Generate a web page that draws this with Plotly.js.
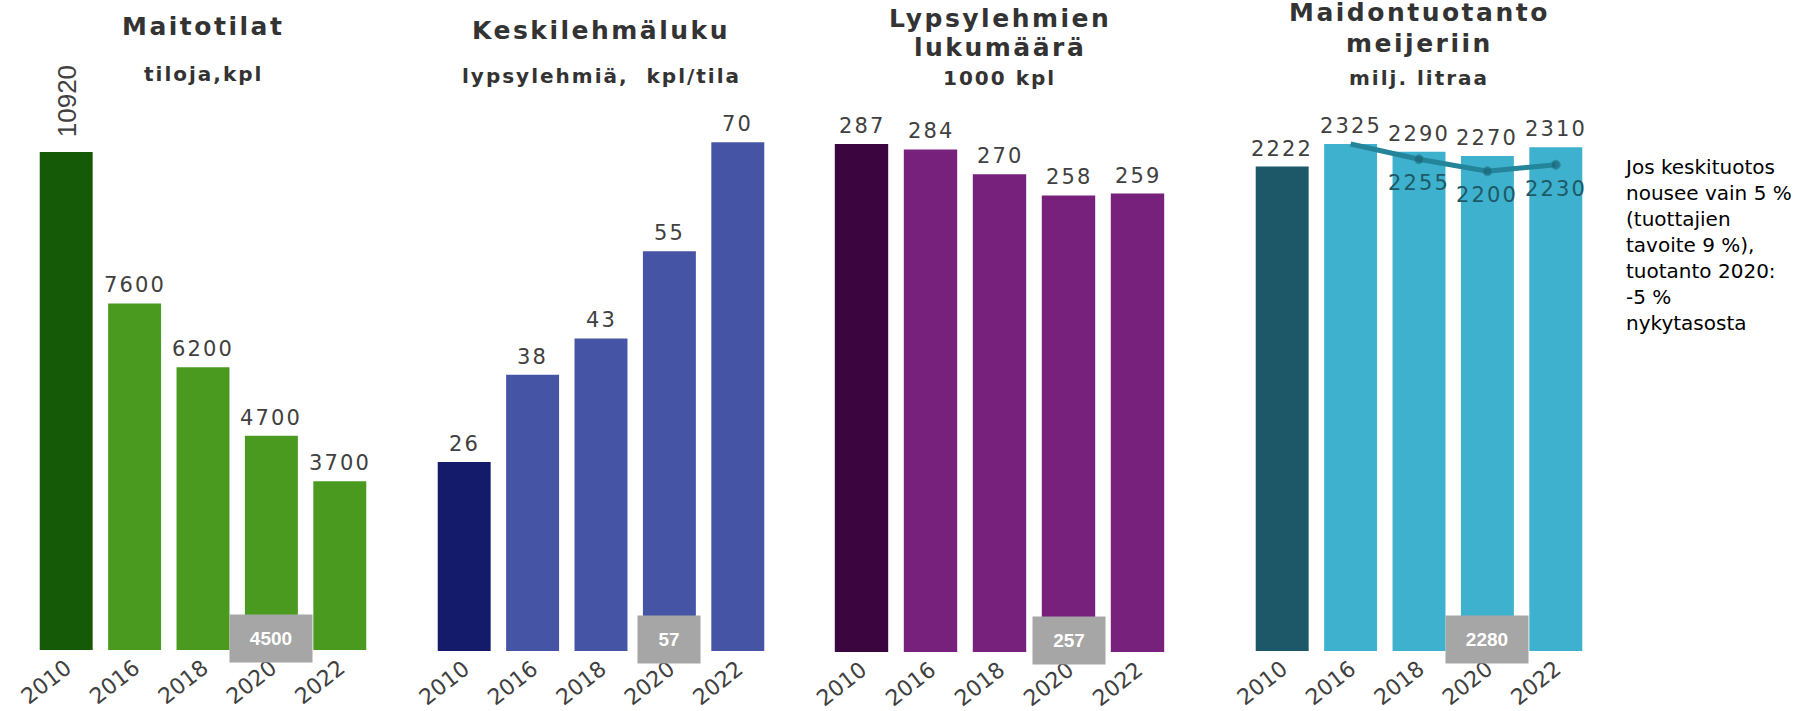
<!DOCTYPE html>
<html>
<head>
<meta charset="utf-8">
<script src="https://cdn.plot.ly/plotly-3.0.1.min.js"></script>
<style>
  html, body { margin: 0; padding: 0; background: #fff; }
  /* the source chart uses widely spaced lettering */
  .annotation-text { letter-spacing: 0.1em; }
  .annotation[data-index="0"] text,
  .annotation[data-index="1"] text,
  .annotation[data-index="2"] text,
  .annotation[data-index="3"] text,
  .annotation[data-index="4"] text,
  .annotation[data-index="5"] text { letter-spacing: 0; }
</style>
</head>
<body>
<div id="chart" style="width:1808px;height:711px"></div>
<script>
const years = ['2010', '2016', '2018', '2020', '2022'];

const farms = [10920, 7600, 6200, 4700, 3700];
const herdSize = [26, 38, 43, 55, 70];
const cows = [287, 284, 270, 258, 259];
const milk = [2222, 2325, 2290, 2270, 2310];

// slower growth scenario for milk production
const lineYears = ['2016', '2018', '2020', '2022'];
const milkSlow = [2325, 2255, 2200, 2230];

// grey boxes under the 2020 bars
const target2020 = [4500, 57, 257, 2280];

const titles = [
    ['Maitotilat'],
    ['Keskilehmäluku'],
    ['Lypsylehmien', 'lukumäärä'],
    ['Maidontuotanto', 'meijeriin']
];
const units = ['tiloja,kpl', 'lypsylehmiä,  kpl/tila', '1000 kpl', 'milj. litraa'];
const note = 'Jos keskituotos<br>nousee vain 5 %<br>(tuottajien<br>tavoite 9 %),<br>' +
             'tuotanto 2020:<br>-5 %<br>nykytasosta';

const W = 1808, H = 711;
const textColor = '#404040';
const titleColor = '#333333';

/* pixel layout of each panel: plot left/right edge, bar base, top of axis domain */
const panels = [
    {values: farms, left: 32, right: 374, base: 650, top: 100, max: 12061,
     dark: '#155a07', light: '#4a9a20', titleY: [26], unitY: 74},
    {values: herdSize, left: 430, right: 772, base: 651, top: 100, max: 75.8,
     dark: '#131b6a', light: '#4654a5', titleY: [31], unitY: 76},
    {values: cows, left: 827, right: 1172, base: 652, top: 100, max: 311.9,
     dark: '#3b053f', light: '#77207c', titleY: [18, 47], unitY: 78},
    {values: milk, left: 1248, right: 1590, base: 651, top: 100, max: 2527,
     dark: '#1c5867', light: '#3db1cd', titleY: [13, 43], unitY: 78}
];

const axisName = (p, i) => p + (i ? i + 1 : '');
// annotations on a category axis are placed by category index
const pos = year => years.indexOf(year);

const data = [];
const layout = {
    width: W,
    height: H,
    margin: {l: 0, r: 0, t: 0, b: 0},
    paper_bgcolor: '#fff',
    plot_bgcolor: 'rgba(0,0,0,0)',
    showlegend: false,
    bargap: 0.226,
    font: {family: 'DejaVu Sans', color: textColor},
    annotations: []
};
const ann = layout.annotations;

// side note (index 0)
ann.push({
    xref: 'paper', yref: 'paper', x: 1622 / W, y: 1 - 245 / H,
    xanchor: 'left', yanchor: 'middle', align: 'left', showarrow: false,
    text: note,
    font: {family: 'DejaVu Sans', size: 20, color: '#000'}
});

// grey 2020 boxes (index 1-4)
panels.forEach((p, i) => {
    const label = String(target2020[i]);
    ann.push({
        xref: axisName('x', i), yref: axisName('y', i),
        x: pos('2020'), y: 0, yanchor: 'middle', yshift: 12,
        showarrow: false, text: label,
        bgcolor: '#a6a6a6', width: 40 + 10 * label.length, height: 45,
        font: {family: 'Liberation Sans Narrow, Liberation Sans', size: 19,
               color: '#fff', weight: 'bold'}
    });
});

// rotated label of the tallest bar (index 5)
ann.push({
    xref: 'x', yref: 'y', x: 0, y: farms[0],
    yanchor: 'bottom', yshift: 6, textangle: -90, showarrow: false,
    text: String(farms[0]),
    font: {family: 'Liberation Sans Narrow, Liberation Sans', size: 26, color: textColor}
});

panels.forEach((p, i) => {
    const xa = axisName('x', i), ya = axisName('y', i);

    data.push({
        type: 'bar',
        x: years,
        y: p.values,
        xaxis: xa,
        yaxis: ya,
        marker: {color: years.map((y, j) => j === 0 ? p.dark : p.light)},
        hoverinfo: 'skip'
    });

    layout[axisName('xaxis', i)] = {
        domain: [p.left / W, p.right / W],
        anchor: ya,
        type: 'category',
        categoryorder: 'array',
        categoryarray: years,
        range: [-0.5, years.length - 0.5],
        tickangle: -38,
        tickfont: {family: 'DejaVu Sans', size: 22, color: textColor},
        ticklabelstandoff: 0,
        showgrid: false,
        zeroline: false,
        showline: false,
        ticks: '',
        fixedrange: true
    };
    layout[axisName('yaxis', i)] = {
        domain: [1 - p.base / H, 1 - p.top / H],
        anchor: xa,
        range: [0, p.max],
        visible: false,
        fixedrange: true
    };

    // value labels above the bars
    p.values.forEach((v, j) => {
        if (i === 0 && j === 0) return;
        ann.push({
            xref: xa, yref: ya, x: j, y: v,
            yanchor: 'bottom', yshift: 4, showarrow: false,
            text: String(v),
            font: {family: 'DejaVu Sans', size: 21, color: textColor}
        });
    });

    // panel titles
    titles[i].forEach((t, k) => {
        ann.push({
            xref: xa + ' domain', yref: 'paper', x: 0.5, y: 1 - p.titleY[k] / H,
            yanchor: 'middle', showarrow: false, text: t,
            font: {family: 'DejaVu Sans', size: 25, color: titleColor, weight: 'bold'}
        });
    });
    ann.push({
        xref: xa + ' domain', yref: 'paper', x: 0.5, y: 1 - p.unitY / H,
        yanchor: 'middle', showarrow: false, text: units[i],
        font: {family: 'DejaVu Sans', size: 20, color: titleColor, weight: 'bold'}
    });
});

// scenario line in the milk panel
data.push({
    type: 'scatter',
    mode: 'lines+markers',
    x: lineYears,
    y: milkSlow,
    xaxis: 'x4',
    yaxis: 'y4',
    line: {color: '#23849a', width: 5},
    marker: {color: '#1c6677', size: lineYears.map((y, j) => j === 0 ? 0 : 9)},
    hoverinfo: 'skip'
});
milkSlow.forEach((v, j) => {
    if (j === 0) return;
    ann.push({
        xref: 'x4', yref: 'y4', x: pos(lineYears[j]), y: v,
        yanchor: 'middle', yshift: -24, showarrow: false,
        text: String(v),
        font: {family: 'DejaVu Sans', size: 21, color: '#1e5966'}
    });
});

Plotly.newPlot('chart', data, layout, {displayModeBar: false, staticPlot: true});
</script>
</body>
</html>
